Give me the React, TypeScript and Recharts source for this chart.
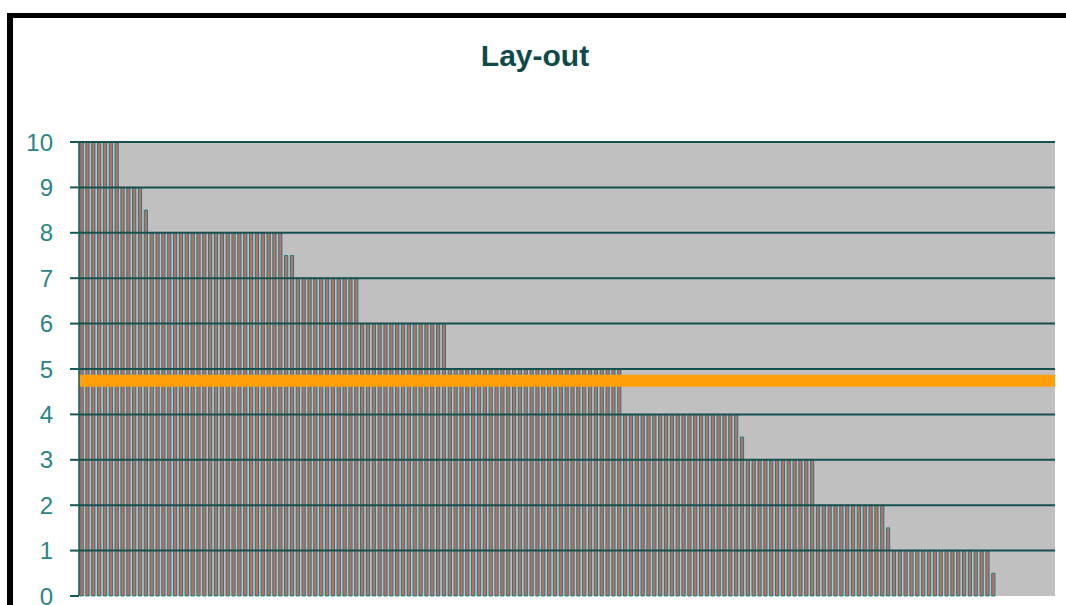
import React from "react";
import {
  BarChart,
  Bar,
  XAxis,
  YAxis,
  CartesianGrid,
  ReferenceLine,
} from "recharts";

// Rating values per item, sorted high to low
const scores: number[] = [
  10, 10, 10, 10, 10, 10, 10,
  9, 9, 9, 9,
  8.5,
  8, 8, 8, 8, 8, 8, 8, 8, 8, 8, 8, 8, 8, 8, 8, 8, 8, 8, 8, 8, 8, 8, 8,
  7.5, 7.5,
  7, 7, 7, 7, 7, 7, 7, 7, 7, 7, 7,
  6, 6, 6, 6, 6, 6, 6, 6, 6, 6, 6, 6, 6, 6, 6,
  5, 5, 5, 5, 5, 5, 5, 5, 5, 5, 5, 5, 5, 5, 5, 5, 5, 5, 5, 5, 5, 5, 5, 5, 5, 5, 5, 5, 5, 5,
  4, 4, 4, 4, 4, 4, 4, 4, 4, 4, 4, 4, 4, 4, 4, 4, 4, 4, 4, 4,
  3.5,
  3, 3, 3, 3, 3, 3, 3, 3, 3, 3, 3, 3,
  2, 2, 2, 2, 2, 2, 2, 2, 2, 2, 2, 2,
  1.5,
  1, 1, 1, 1, 1, 1, 1, 1, 1, 1, 1, 1, 1, 1, 1, 1, 1,
  0.5,
];

// Empty slots after the last rated item (the category axis continues)
const emptySlots: (number | null)[] = [null, null, null, null, null, null, null, null, null, null];

const yTicks: number[] = [0, 1, 2, 3, 4, 5, 6, 7, 8, 9, 10];
const gridValues: number[] = [1, 2, 3, 4, 5, 6, 7, 8, 9, 10];
const averageLine = 4.74;
const chartTitle = "Lay-out";

const data = [...scores, ...emptySlots].map((v, i) => ({ item: i + 1, v }));

export default function App() {
  return (
    <div
      style={{
        position: "fixed",
        left: 0,
        top: 0,
        width: 1066,
        height: 605,
        overflow: "hidden",
        background: "#ffffff",
      }}
    >
      <div
        style={{
          position: "absolute",
          left: 7,
          top: 13,
          width: 1200,
          height: 800,
          borderLeft: "6px solid #000",
          borderTop: "5px solid #000",
        }}
      />
      <div
        style={{
          position: "absolute",
          left: 0,
          width: 1070,
          top: 38,
          textAlign: "center",
          fontFamily: "'Liberation Sans', Arial, sans-serif",
          fontWeight: "bold",
          fontSize: 30,
          color: "#0f4a4a",
          lineHeight: "36px",
        }}
      >
        {chartTitle}
      </div>
      <div style={{ position: "absolute", left: 0, top: 0 }}>
        <BarChart
          width={1066}
          height={650}
          data={data}
          margin={{ top: 142, right: 11, bottom: 54, left: 0 }}
          barSize={3.2}
        >
          <CartesianGrid
            horizontal={false}
            vertical={false}
            fill="#c0c0c0"
            fillOpacity={1}
          />
          <XAxis dataKey="item" hide />
          <YAxis
            yAxisId="left"
            width={79}
            domain={[0, 10]}
            ticks={yTicks}
            interval={0}
            tickSize={9}
            tickMargin={17}
            axisLine={{ stroke: "#15595a", strokeWidth: 1.5 }}
            tickLine={{ stroke: "#15595a", strokeWidth: 2 }}
            tick={{
              fill: "#2a8585",
              fontSize: 24,
              fontFamily: "'Liberation Sans', Arial, sans-serif",
            }}
          />
          <YAxis
            yAxisId="right"
            orientation="right"
            width={0}
            domain={[0, 10]}
            tick={false}
            tickLine={false}
            axisLine={{ stroke: "#7fb6b4", strokeWidth: 1 }}
          />
          <Bar
            yAxisId="left"
            dataKey="v"
            fill="#d8625d"
            stroke="#0e8683"
            strokeWidth={1}
            isAnimationActive={false}
          />
          {gridValues.map((g) => (
            <ReferenceLine
              key={g}
              yAxisId="left"
              y={g}
              stroke="#17514f"
              strokeWidth={2}
            />
          ))}
          <ReferenceLine
            yAxisId="left"
            y={averageLine}
            stroke="#ffa00a"
            strokeWidth={12}
          />
        </BarChart>
      </div>
    </div>
  );
}
